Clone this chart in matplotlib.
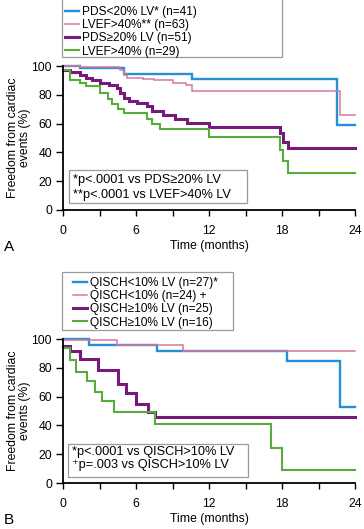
import numpy as np
import matplotlib
matplotlib.use('Agg')
import matplotlib.pyplot as plt
from matplotlib.patches import Rectangle

plt.rcParams['font.family'] = ['Liberation Sans', 'DejaVu Sans']

# panel A: Kaplan-Meier steps (months, % event free)
a_blue_t = [0, 1.4, 5.0, 10.6, 22.5]
a_blue_s = [100, 98.5, 94.5, 91.3, 59]
a_pink_t = [0, 1.4, 4.7, 5.0, 5.3, 6.6, 7.5, 9.0, 10.1, 10.6, 22.8]
a_pink_s = [100, 99, 97, 94, 92, 91, 90, 88.5, 86.5, 82.5, 66]
a_purp_t = [0, 0.6, 1.4, 1.9, 2.4, 3.0, 3.8, 4.4, 4.7, 5.0, 5.4, 6.1, 6.9, 7.3,
            8.2, 9.2, 10.2, 12.0, 17.8, 18.1, 18.5]
a_purp_s = [97.5, 95.5, 94, 91.5, 90, 88.5, 87, 84.5, 81, 78, 75.5, 74, 72, 68.5,
            66, 63.5, 60.5, 57.5, 53.5, 47.5, 43]
a_green_t = [0, 0.6, 1.4, 1.9, 3.0, 3.7, 4.0, 4.5, 5.0, 6.9, 7.3, 8.0, 12.0,
             17.8, 18.1, 18.5]
a_green_s = [97, 90, 88.5, 86, 81.5, 77, 73.5, 70, 67.5, 63, 59.5, 56, 51,
             41.5, 34, 26]
a_labels = ['PDS<20% LV* (n=41)', 'LVEF>40%** (n=63)',
            'PDS≥20% LV (n=51)', 'LVEF>40% (n=29)']
a_notes = ['*p<.0001 vs PDS≥20% LV', '**p<.0001 vs LVEF>40% LV']

# panel B
b_blue_t = [0, 2.1, 7.7, 18.4, 22.8]
b_blue_s = [100, 96, 91.5, 84.5, 53]
b_pink_t = [0, 4.4, 9.9]
b_pink_s = [99, 95.5, 91.5]
b_purp_t = [0, 0.6, 1.4, 2.9, 4.5, 5.2, 6.0, 7.0, 7.6]
b_purp_s = [95, 92, 86, 78.5, 69, 62.5, 55, 49.5, 45.5]
b_green_t = [0, 0.6, 1.1, 2.0, 2.6, 3.2, 4.2, 7.6, 17.1, 18.0]
b_green_s = [94, 85.5, 77, 70.5, 63.5, 57, 49.5, 41, 24.5, 9]
b_labels = ['QISCH<10% LV (n=27)*', 'QISCH<10% (n=24) +',
            'QISCH≥10% LV (n=25)', 'QISCH≥10% LV (n=16)']
b_notes = ['*p<.0001 vs QISCH>10% LV', '⁺p=.003 vs QISCH>10% LV']

colors = ['#2590d6', '#d7789b', '#771a7c', '#58ad3a']
widths = [1.7, 1.1, 2.2, 1.5]
W, H = 364, 529
fs_leg = 8.6
fs_tick = 8.8
fs_note = 9.2


def km(ax, t, s, c, lw, label):
    t = list(t) + [24]
    s = list(s) + [s[-1]]
    line, = ax.plot(t, s, drawstyle='steps-post', color=c, lw=lw,
                    label=label, clip_on=False, solid_joinstyle='miter')
    return line


def panel(top_px, curves, labels, notes, letter, leg_anchor, leg_box, spacing,
          note_box, note_y):
    bottom_px = top_px + 144
    ax = fig.add_axes([63 / W, 1 - bottom_px / H, 292 / W, 144 / H])
    handles = []
    for (t, s), c, lw, lab in zip(curves, colors, widths, labels):
        handles.append(km(ax, t, s, c, lw, lab))
    ax.set_xlim(0, 24)
    ax.set_ylim(0, 100)
    for sp in ['top', 'right']:
        ax.spines[sp].set_visible(False)
    for sp in ['left', 'bottom']:
        ax.spines[sp].set_linewidth(1.3)
    ax.set_xticks([0, 6, 12, 18, 24])
    ax.set_xticks([3, 9, 15, 21], minor=True)
    ax.set_yticks([0, 20, 40, 60, 80, 100])
    ax.tick_params(axis='x', which='both', length=4, width=1, pad=7,
                   labelsize=fs_tick)
    ax.tick_params(axis='y', length=5, width=1, pad=3, labelsize=fs_tick)
    ax.set_xlabel('Time (months)', fontsize=fs_tick, labelpad=2)
    ax.set_ylabel('Freedom from cardiac\nevents (%)', fontsize=fs_tick,
                  linespacing=1.0)
    ax.yaxis.set_label_coords(-0.11, 0.5)
    fig.text(4 / W, 1 - (bottom_px + 37) / H, letter, fontsize=11,
             va='center', ha='left')
    # legend frame + legend
    x0, y0, x1, y1 = leg_box
    fig.patches.append(Rectangle((x0 / W, 1 - y1 / H), (x1 - x0) / W,
                                 (y1 - y0) / H, transform=fig.transFigure,
                                 fill=False, edgecolor='#9a9a9a', lw=0.9))
    fig.legend(handles=handles, loc='upper left',
               bbox_to_anchor=(leg_anchor[0] / W, 1 - leg_anchor[1] / H),
               frameon=False, fontsize=fs_leg, handlelength=1.15,
               handletextpad=0.3, borderpad=0, borderaxespad=0,
               labelspacing=spacing)
    # note box
    nx0, ny0, nx1, ny1 = note_box
    ax.add_patch(Rectangle((nx0, ny0), nx1 - nx0, ny1 - ny0,
                           transform=ax.transAxes, fill=False,
                           edgecolor='#9a9a9a', lw=0.9))
    for txt, yy in zip(notes, note_y):
        ax.text(nx0 + 0.013, yy, txt, transform=ax.transAxes,
                fontsize=fs_note, va='center', ha='left')
    return ax


fig = plt.figure(figsize=(W / 100, H / 100), dpi=100)

panel(66, [(a_blue_t, a_blue_s), (a_pink_t, a_pink_s), (a_purp_t, a_purp_s),
           (a_green_t, a_green_s)], a_labels, a_notes, 'A',
      (65, 6), (61.5, -1, 282, 57), 0.1,
      (0.021, 0.049, 0.630, 0.278), (0.205, 0.106))

panel(339, [(b_blue_t, b_blue_s), (b_pink_t, b_pink_s), (b_purp_t, b_purp_s),
            (b_green_t, b_green_s)], b_labels, b_notes, 'B',
      (73, 277), (61.5, 272, 233, 330), 0.1,
      (0.017, 0.042, 0.634, 0.271), (0.212, 0.128))

fig.savefig('out.png', dpi=100)
